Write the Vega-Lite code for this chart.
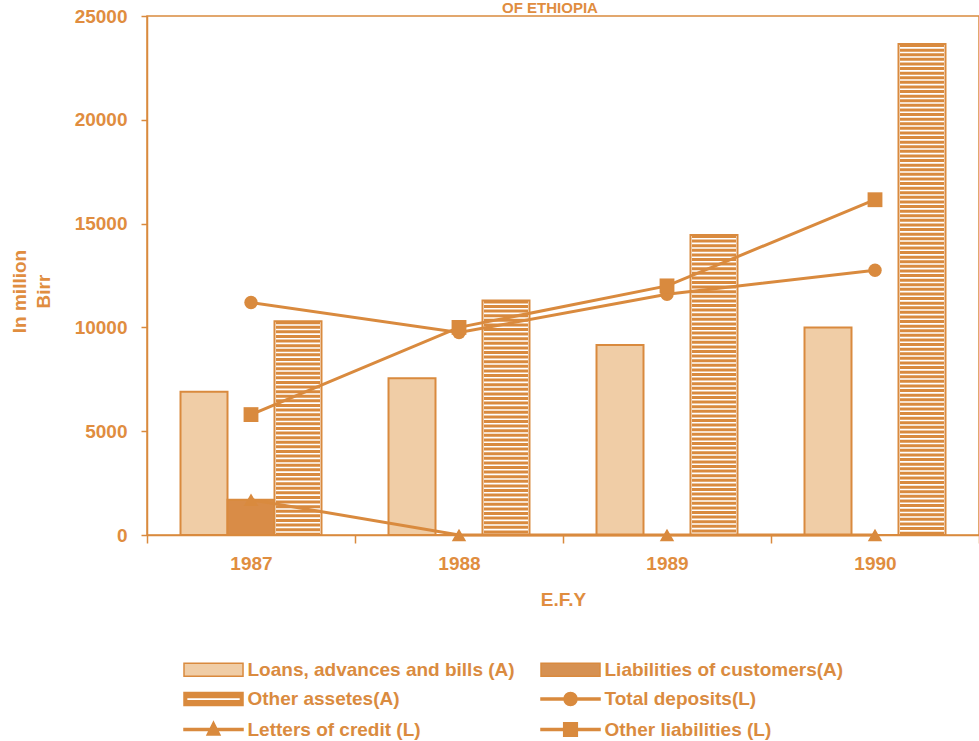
{
  "$schema": "https://vega.github.io/schema/vega-lite/v6.json",
  "width": 832,
  "height": 519,
  "autosize": {"type": "none"},
  "padding": {"left": 147, "top": 16, "right": 0, "bottom": 206},
  "background": "white",
  "title": {"text": "OF ETHIOPIA", "fontSize": 15, "font": "Liberation Sans", "fontWeight": "bold", "color": "#E08D3F", "anchor": "middle", "baseline": "bottom", "offset": 0, "dx": -13, "dy": 24},
  "config": {
    "font": "Liberation Sans",
    "view": {"stroke": "#D98A3E", "strokeWidth": 1.5},
    "axis": {"domainColor": "#D98A3E", "domainWidth": 1.5, "tickColor": "#D98A3E", "tickWidth": 1.5, "labelColor": "#E08D3F", "labelFont": "Liberation Sans", "labelFontSize": 19, "labelFontWeight": "bold", "titleColor": "#E08D3F", "titleFont": "Liberation Sans", "titleFontSize": 19, "titleFontWeight": "bold", "grid": false}
  },
  "data": {"values": [
    {"year": "1987", "series": "Loans, advances and bills (A)", "value": 6900},
    {"year": "1988", "series": "Loans, advances and bills (A)", "value": 7550},
    {"year": "1989", "series": "Loans, advances and bills (A)", "value": 9150},
    {"year": "1990", "series": "Loans, advances and bills (A)", "value": 10000},
    {"year": "1987", "series": "Liabilities of customers(A)", "value": 1700},
    {"year": "1988", "series": "Liabilities of customers(A)", "value": 0},
    {"year": "1989", "series": "Liabilities of customers(A)", "value": 0},
    {"year": "1990", "series": "Liabilities of customers(A)", "value": 0},
    {"year": "1987", "series": "Other assetes(A)", "value": 10300},
    {"year": "1988", "series": "Other assetes(A)", "value": 11300},
    {"year": "1989", "series": "Other assetes(A)", "value": 14450},
    {"year": "1990", "series": "Other assetes(A)", "value": 23650},
    {"year": "1987", "series": "Total deposits(L)", "value": 11200},
    {"year": "1988", "series": "Total deposits(L)", "value": 9750},
    {"year": "1989", "series": "Total deposits(L)", "value": 11600},
    {"year": "1990", "series": "Total deposits(L)", "value": 12750},
    {"year": "1987", "series": "Letters of credit (L)", "value": 1700},
    {"year": "1988", "series": "Letters of credit (L)", "value": 0},
    {"year": "1989", "series": "Letters of credit (L)", "value": 0},
    {"year": "1990", "series": "Letters of credit (L)", "value": 0},
    {"year": "1987", "series": "Other liabilities (L)", "value": 5800},
    {"year": "1988", "series": "Other liabilities (L)", "value": 10000},
    {"year": "1989", "series": "Other liabilities (L)", "value": 12000},
    {"year": "1990", "series": "Other liabilities (L)", "value": 16150}
  ]},
  "encoding": {
    "x": {"field": "year", "type": "nominal", "scale": {"paddingInner": 0, "paddingOuter": 0},
      "axis": {"title": "E.F.Y", "labelAngle": 0, "tickBand": "extent", "tickSize": 8, "labelPadding": 11, "titlePadding": 17}},
    "y": {"field": "value", "type": "quantitative", "scale": {"domain": [0, 25000], "nice": false},
      "axis": {"title": ["In million", "Birr"], "values": [0, 5000, 10000, 15000, 20000, 25000], "format": "d", "tickSize": 6, "labelPadding": 14, "titleAngle": -90, "titleX": -137, "titleY": 275, "titleBaseline": "top", "titleAlign": "center", "titleLineHeight": 24}}
  },
  "layer": [
    {
      "transform": [{"filter": {"field": "series", "oneOf": ["Loans, advances and bills (A)", "Liabilities of customers(A)", "Other assetes(A)"]}}],
      "mark": {"type": "bar", "stroke": "#D98A3E", "strokeWidth": 2},
      "encoding": {
        "xOffset": {"field": "series", "type": "nominal", "scale": {"domain": ["Loans, advances and bills (A)", "Liabilities of customers(A)", "Other assetes(A)"], "paddingInner": 0, "paddingOuter": 0.713}},
        "fill": {"field": "series", "type": "nominal", "scale": {"domain": ["Loans, advances and bills (A)", "Liabilities of customers(A)", "Other assetes(A)"], "range": ["#F0CDA6", "#D98C47", "#FFFFFF"]}, "legend": null}
      }
    },
    {
      "transform": [{"filter": {"field": "series", "equal": "Other assetes(A)"}}],
      "mark": {"type": "rule", "stroke": "#D98A3E", "strokeWidth": 44, "strokeDash": [3, 1.6], "strokeCap": "butt"},
      "encoding": {
        "xOffset": {"field": "series", "type": "nominal", "scale": {"domain": ["Loans, advances and bills (A)", "Liabilities of customers(A)", "Other assetes(A)"], "paddingInner": 0, "paddingOuter": 0.713}},
        "y2": {"datum": 0}
      }
    },
    {
      "transform": [{"filter": {"field": "series", "oneOf": ["Total deposits(L)", "Letters of credit (L)", "Other liabilities (L)"]}}],
      "mark": {"type": "line", "stroke": "#D98A3E", "strokeWidth": 3},
      "encoding": {"detail": {"field": "series", "type": "nominal"}}
    },
    {
      "transform": [{"filter": {"field": "series", "equal": "Total deposits(L)"}}],
      "mark": {"type": "point", "filled": true, "shape": "circle", "size": 180, "color": "#D98A3E", "opacity": 1}
    },
    {
      "transform": [{"filter": {"field": "series", "equal": "Letters of credit (L)"}}],
      "mark": {"type": "point", "filled": true, "shape": "triangle-up", "size": 210, "color": "#D98A3E", "opacity": 1}
    },
    {
      "transform": [{"filter": {"field": "series", "equal": "Other liabilities (L)"}}],
      "mark": {"type": "point", "filled": true, "shape": "square", "size": 220, "color": "#D98A3E", "opacity": 1}
    },
    {
      "transform": [{"filter": "false"}],
      "mark": {"type": "point", "filled": true, "opacity": 1, "stroke": "#D98A3E", "strokeWidth": 1.5},
      "encoding": {
        "color": {"field": "series", "type": "nominal",
          "scale": {"domain": ["Loans, advances and bills (A)", "Liabilities of customers(A)", "Other assetes(A)", "Total deposits(L)", "Letters of credit (L)", "Other liabilities (L)"],
                    "range": ["#F0CDA6", "#D69152", "#D98A3E", "#D98A3E", "#D98A3E", "#D98A3E"]},
          "legend": {"orient": "none", "direction": "horizontal", "legendX": 34, "legendY": 644, "columns": 2, "columnPadding": 23, "rowPadding": 9.5, "title": null, "padding": 0, "symbolSize": 169, "labelOffset": 47.5, "labelFontSize": 19, "labelFontWeight": "bold", "labelColor": "#DA8B3F", "labelFont": "Liberation Sans", "labelLimit": 400, "symbolStrokeColor": "#D98A3E", "symbolStrokeWidth": 1.5, "symbolOpacity": 1}},
        "shape": {"field": "series", "type": "nominal",
          "scale": {"domain": ["Loans, advances and bills (A)", "Liabilities of customers(A)", "Other assetes(A)", "Total deposits(L)", "Letters of credit (L)", "Other liabilities (L)"],
                    "range": ["M-1,-1H8.08V1H-1Z", "M-1,-1H8.08V1H-1Z", "M-1,-1H8.08V1H-1ZM-0.6,-0.25V0.25H7.68V-0.25Z", "M-1,-0.15H8.08V0.15H-1ZM2.54,0A1,1,0,1,1,4.54,0A1,1,0,1,1,2.54,0Z", "M-1,-0.15H8.08V0.15H-1ZM3.54,-1.15L4.54,0.85H2.54Z", "M-1,-0.15H8.08V0.15H-1ZM2.49,-1.05H4.59V1.05H2.49Z"]}}
      }
    }
  ]
}
